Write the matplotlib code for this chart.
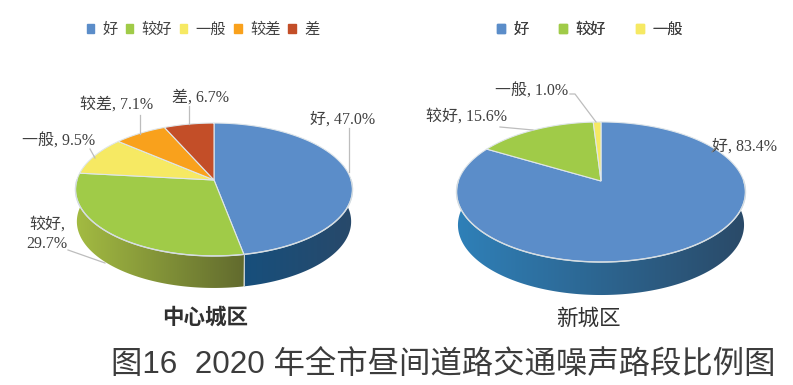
import numpy as np
import matplotlib
matplotlib.use('Agg')
import matplotlib.pyplot as plt
from matplotlib.colors import to_rgb
from matplotlib.patches import Patch, Polygon

# data
labels_city = ['好', '较好', '一般', '较差', '差']
values_city = [47.0, 29.7, 9.5, 7.1, 6.7]
labels_new = ['好', '较好', '一般']
values_new = [83.4, 15.6, 1.0]
name_city = '中心城区'
name_new = '新城区'
title = '图16  2020 年全市昼间道路交通噪声路段比例图'

top_colors = ['#5b8dc9', '#a0cb48', '#f6e963', '#f9a11c', '#c34e28']

serif = ['Liberation Serif', 'Noto Sans CJK SC']
sans = ['Liberation Sans', 'Noto Sans CJK SC']
grey = '#bdbdbd'
txt = '#404040'

fig = plt.figure(figsize=(7.93, 3.85), dpi=100)
ax = fig.add_axes([0, 0, 1, 1])


# tilted disc: unit circle seen in perspective, apex is the pie centre
def rim(t, cx, cy, a, s, k):
    u, v = np.sin(t), np.cos(t)
    w = 1 + k * v
    return cx + a * u / w, cy - s * v / w


def pie3d(values, cx, cy, a, s, k, depth, walls, zorder=2):
    edges = np.cumsum([0] + list(values)) / 100 * 2 * np.pi
    # front wall, horizontal gradient clipped to the outline of each slice
    for i in range(len(values)):
        if walls[i] is None:
            continue
        t = np.linspace(edges[i], edges[i + 1], 300)
        t = t[np.cos(t) < 0.25]
        x, y = rim(t, cx, cy, a, s, k)
        xb = cx + (x - cx) * 0.99
        yb = y + depth
        c0, c1, x0, x1 = walls[i]
        grad = np.linspace(to_rgb(c0), to_rgb(c1), 256)[None, :, :]
        im = ax.imshow(grad, extent=[x0, x1, yb.max() + 2, y.min() - 2], aspect='auto',
                       interpolation='bilinear', zorder=zorder)
        clip = Polygon(np.c_[np.r_[x, xb[::-1]], np.r_[y, yb[::-1]]], transform=ax.transData)
        im.set_clip_path(clip)
    # top face
    for i in range(len(values)):
        t = np.linspace(edges[i], edges[i + 1], 200)
        x, y = rim(t, cx, cy, a, s, k)
        ax.fill(np.r_[cx, x], np.r_[cy, y], color=top_colors[i], ec='#dfe6ea',
                lw=0.8, zorder=zorder + 1)
    # light edge along the front of the rim
    t = np.linspace(np.pi / 2, 3 * np.pi / 2, 300)
    x, y = rim(t, cx, cy, a, s, k)
    ax.plot(x, y, color='#d5dde2', lw=1.0, zorder=zorder + 2)
    # seam on the wall at the first boundary
    if walls[1] is not None and len(values) > 3:
        xs, ys = rim(edges[1], cx, cy, a, s, k)
        ax.plot([xs, xs], [ys, ys + depth], color='#c8d2d8', lw=0.7, zorder=zorder + 2)


pie3d(values_city, 214, 180, 137.1, 65.1, 0.143, 32,
      [('#174f7c', '#28496a', 244, 353), ('#a3bb42', '#626b2e', 76, 244), None, None, None])
pie3d(values_new, 601, 181, 142.7, 68.3, 0.157, 33,
      [('#2f80b8', '#2a4a68', 457, 746), None, None])

ax.set_xlim(0, 793)
ax.set_ylim(385, 0)
ax.axis('off')


# labels and leader lines
def lab(x, y, name, val, sep=', '):
    ax.text(x, y + 1.5, f'{name},{sep}{val:.1f}%', ha='center', va='center', fontsize=11.5,
            color=txt, family=serif, zorder=6, linespacing=1.3)


lab(343, 118, labels_city[0], values_city[0], ' ')
lab(47, 233, labels_city[1], values_city[1], '\n')
lab(59, 140, labels_city[2], values_city[2], ' ')
lab(117, 103, labels_city[3], values_city[3], ' ')
lab(200, 96, labels_city[4], values_city[4], ' ')
lab(745, 145, labels_new[0], values_new[0], ' ')
lab(467, 115, labels_new[1], values_new[1], ' ')
lab(532, 90, labels_new[2], values_new[2], ' ')

leaders = [([349, 349], [128, 172]), ([68, 105], [250, 263]), ([90, 95], [149, 158]),
           ([140, 140], [115, 134]), ([189, 189], [106, 124]),
           ([570, 575, 596], [94, 94, 122]), ([500, 533], [127, 130])]
for lx, ly in leaders:
    ax.plot(lx, ly, color=grey, lw=0.9, zorder=5)
ax.plot([712, 716], [152, 147], color='#808080', lw=0.8, zorder=7)


# legends on top of each pie
def legend(names, center, colspace):
    hs = [Patch(color=top_colors[i], label=n) for i, n in enumerate(names)]
    leg = ax.legend(handles=hs, loc='center', bbox_to_anchor=(center, 30), ncol=len(names),
                    bbox_transform=ax.transData, frameon=False, handlelength=0.5,
                    handleheight=0.5, handletextpad=0.55, columnspacing=colspace,
                    prop={'family': serif, 'size': 11}, labelcolor=txt, borderpad=0)
    ax.add_artist(leg)


legend(labels_city, 203, 0.5)
legend(labels_new, 590, 2.0)

ax.text(205, 318, name_city, ha='center', va='center', fontsize=15.5, color='#303030',
        family=sans, fontweight='bold')
ax.text(588, 319, name_new, ha='center', va='center', fontsize=15.5, color='#303030',
        family=sans)
ax.text(443, 365, title, ha='center', va='center', fontsize=22.6, color='#3c3c3c',
        family=sans)

fig.savefig('out.png', dpi=100)
